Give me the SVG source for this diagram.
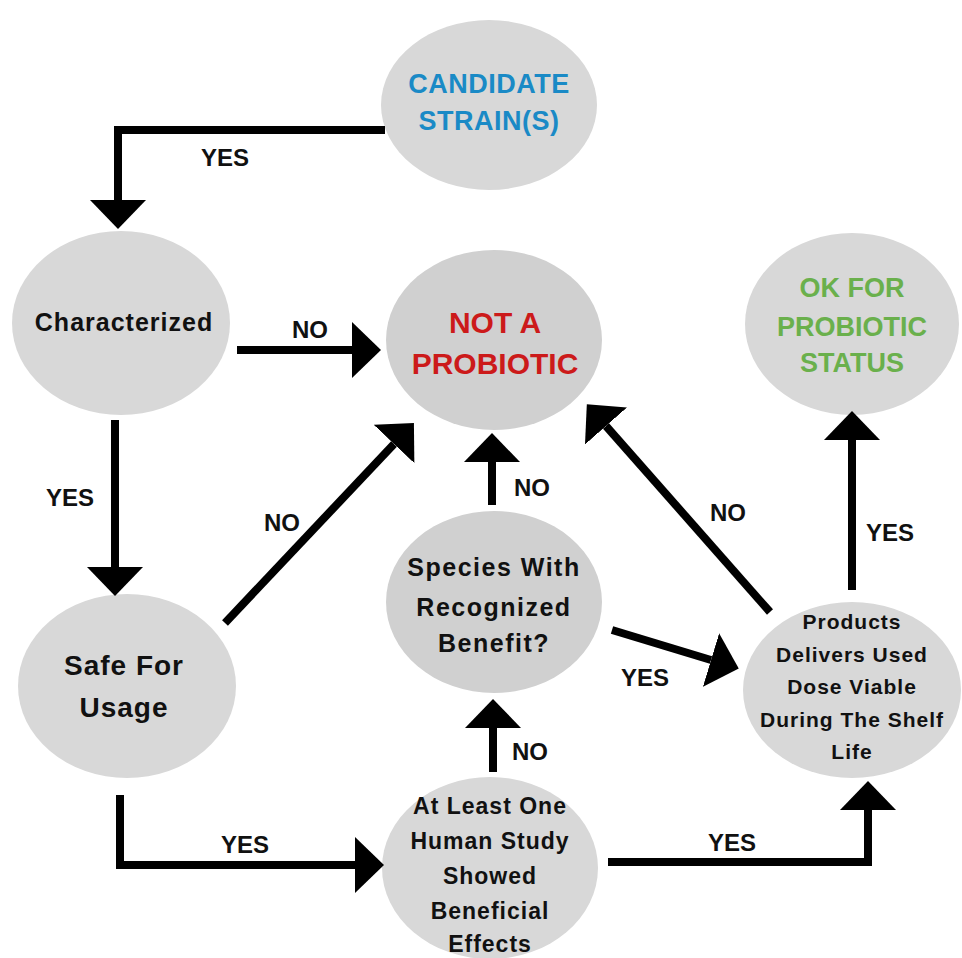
<svg xmlns="http://www.w3.org/2000/svg" width="962" height="958" viewBox="0 0 962 958">
<style>
.node{fill:#d8d8d8}
.nodeb{fill:#d0d0d0}
text{font-family:"Liberation Sans",Arial,sans-serif;font-weight:bold;text-anchor:middle}
.t{fill:#111}
.lbl{fill:#111;font-size:24px}
.conn{fill:none;stroke:#000;stroke-width:8;marker-end:url(#ah)}
</style>
<defs>
<marker id="ah" markerUnits="userSpaceOnUse" markerWidth="30" markerHeight="56" refX="0" refY="28" orient="auto"><path d="M0,0 L29,28 L0,56 z" fill="#000"/></marker>
</defs>
<rect width="962" height="958" fill="#fff"/>
<g id="candidate">
<ellipse class="node" cx="489" cy="105" rx="108" ry="85"/>
<text x="489" y="93" font-size="27" fill="#1a8ac6" letter-spacing="0.5">CANDIDATE</text>
<text x="489" y="130" font-size="27" fill="#1a8ac6" letter-spacing="0.5">STRAIN(S)</text>
</g>
<g id="characterized">
<ellipse class="node" cx="121" cy="323" rx="109" ry="92"/>
<text class="t" x="124" y="331" font-size="25" letter-spacing="1">Characterized</text>
</g>
<g id="not-probiotic">
<ellipse class="nodeb" cx="494" cy="340" rx="108" ry="90"/>
<text x="495" y="333" font-size="30" fill="#cc1a1a">NOT A</text>
<text x="495" y="374" font-size="30" fill="#cc1a1a">PROBIOTIC</text>
</g>
<g id="ok-status">
<ellipse class="node" cx="852" cy="324" rx="107" ry="91"/>
<text x="852" y="297" font-size="27" fill="#6ab04c">OK FOR</text>
<text x="852" y="336" font-size="27" fill="#6ab04c">PROBIOTIC</text>
<text x="852" y="372" font-size="27" fill="#6ab04c">STATUS</text>
</g>
<g id="species">
<ellipse class="nodeb" cx="494" cy="602" rx="108" ry="91"/>
<text class="t" x="494" y="576" font-size="25" letter-spacing="1.5">Species With</text>
<text class="t" x="494" y="616" font-size="25" letter-spacing="1.5">Recognized</text>
<text class="t" x="494" y="652" font-size="25" letter-spacing="1.5">Benefit?</text>
</g>
<g id="products">
<ellipse class="node" cx="852" cy="690" rx="109" ry="88"/>
<text class="t" x="852" y="629" font-size="21" letter-spacing="1">Products</text>
<text class="t" x="852" y="662" font-size="21" letter-spacing="1">Delivers Used</text>
<text class="t" x="852" y="694" font-size="21" letter-spacing="1">Dose Viable</text>
<text class="t" x="852" y="727" font-size="21" letter-spacing="1">During The Shelf</text>
<text class="t" x="852" y="759" font-size="21" letter-spacing="1">Life</text>
</g>
<g id="safe">
<ellipse class="node" cx="127" cy="686" rx="109" ry="92"/>
<text class="t" x="124" y="675" font-size="28" letter-spacing="1">Safe For</text>
<text class="t" x="124" y="717" font-size="28" letter-spacing="1">Usage</text>
</g>
<g id="human-study">
<ellipse class="node" cx="490" cy="868" rx="108" ry="91"/>
<text class="t" x="490" y="814" font-size="23" letter-spacing="1">At Least One</text>
<text class="t" x="490" y="849" font-size="23" letter-spacing="1">Human Study</text>
<text class="t" x="490" y="884" font-size="23" letter-spacing="1">Showed</text>
<text class="t" x="490" y="919" font-size="23" letter-spacing="1">Beneficial</text>
<text class="t" x="490" y="952" font-size="23" letter-spacing="1">Effects</text>
</g>
<g id="connectors">
<path class="conn" d="M385,130 H118 V200"/>
<path class="conn" d="M237,350 H352"/>
<path class="conn" d="M115,420 V567"/>
<path class="conn" d="M225,623 L394,444"/>
<path class="conn" d="M120,795 V865 H355"/>
<path class="conn" d="M493,772 V728"/>
<path class="conn" d="M492,505 V462"/>
<path class="conn" d="M612,630 L711,660"/>
<path class="conn" d="M770,612 L606,426"/>
<path class="conn" d="M608,862 H868 V810"/>
<path class="conn" d="M852,590 V440"/>
<text class="lbl" x="225" y="166">YES</text>
<text class="lbl" x="310" y="338">NO</text>
<text class="lbl" x="70" y="506">YES</text>
<text class="lbl" x="282" y="531">NO</text>
<text class="lbl" x="532" y="496">NO</text>
<text class="lbl" x="728" y="521">NO</text>
<text class="lbl" x="890" y="541">YES</text>
<text class="lbl" x="645" y="686">YES</text>
<text class="lbl" x="530" y="760">NO</text>
<text class="lbl" x="245" y="853">YES</text>
<text class="lbl" x="732" y="851">YES</text>
</g>
</svg>
